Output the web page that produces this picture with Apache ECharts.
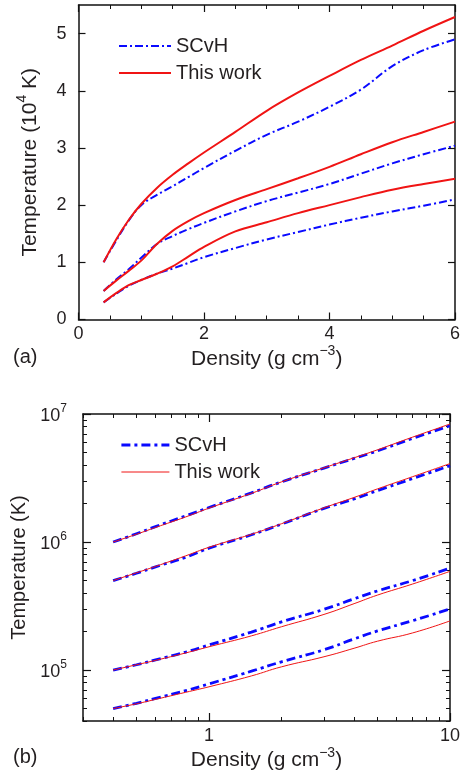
<!DOCTYPE html>
<html><head><meta charset="utf-8">
<script src="https://cdn.jsdelivr.net/npm/echarts@6/dist/echarts.min.js"></script>
<style>html,body{margin:0;padding:0;background:#fff}#c{width:463px;height:773px}</style>
</head><body><div id="c"></div>
<script>
// ---------- Panel (a): linear axes, temperature in 10^4 K ----------
const densA = [0.4,0.6,0.8,1.0,1.25,1.5,1.75,2,2.5,3,3.5,4,4.5,5,5.5,6];
const aScvh1 = [1.00,1.38,1.73,2.00,2.18,2.33,2.49,2.65,2.95,3.23,3.46,3.72,4.02,4.43,4.71,4.90];
const aWork1 = [1.00,1.40,1.74,2.02,2.30,2.53,2.73,2.92,3.28,3.65,3.97,4.26,4.54,4.79,5.05,5.29];
const aScvh2 = [0.50,0.70,0.88,1.08,1.32,1.46,1.58,1.69,1.89,2.07,2.22,2.37,2.55,2.73,2.89,3.04];
const aWork2 = [0.50,0.68,0.85,1.03,1.32,1.55,1.72,1.86,2.09,2.28,2.47,2.67,2.89,3.10,3.28,3.46];
const aScvh3 = [0.30,0.45,0.59,0.69,0.80,0.89,0.99,1.09,1.25,1.40,1.53,1.66,1.78,1.89,1.99,2.10];
const aWork3 = [0.30,0.46,0.60,0.69,0.80,0.93,1.10,1.27,1.54,1.70,1.86,2.00,2.14,2.27,2.37,2.46];
const aXTicks = [0,2,4,6];
const aYTicks = [0,1,2,3,4,5];

// ---------- Panel (b): log-log axes, temperature in K ----------
const densB = [0.4,0.5,0.6,0.8,1,1.5,2,3,4,5,7,10];
const bScvh1 = [1.0e6,1.16e6,1.32e6,1.6e6,1.86e6,2.42e6,2.95e6,3.78e6,4.5e6,5.15e6,6.45e6,8.1e6];
const bWork1 = [1.0e6,1.15e6,1.30e6,1.57e6,1.84e6,2.40e6,2.95e6,3.80e6,4.55e6,5.25e6,6.6e6,8.35e6];
const bScvh2 = [5.0e5,5.7e5,6.4e5,7.6e5,8.95e5,1.14e6,1.38e6,1.83e6,2.17e6,2.52e6,3.13e6,3.95e6];
const bWork2 = [5.0e5,5.75e5,6.45e5,7.8e5,9.1e5,1.15e6,1.39e6,1.85e6,2.23e6,2.6e6,3.24e6,4.1e6];
const bScvh3 = [1.0e5,1.1e5,1.2e5,1.38e5,1.57e5,1.98e5,2.38e5,2.98e5,3.6e5,4.15e5,5.0e5,6.25e5];
const bWork3 = [1.0e5,1.1e5,1.19e5,1.36e5,1.52e5,1.85e5,2.18e5,2.72e5,3.3e5,3.85e5,4.7e5,5.9e5];
const bScvh4 = [5.0e4,5.5e4,6.0e4,6.9e4,7.8e4,9.8e4,1.16e5,1.44e5,1.75e5,2.02e5,2.43e5,3.0e5];
const bWork4 = [5.0e4,5.45e4,5.9e4,6.7e4,7.4e4,9.0e4,1.06e5,1.27e5,1.48e5,1.68e5,1.95e5,2.42e5];
const bXMajor = [1,10];
const bXMinor = [0.3,0.4,0.5,0.6,0.7,0.8,0.9,2,3,4,5,6,7,8,9];
const bYMajor = [1e5,1e6,1e7];
const bYMinor = [4e4,5e4,6e4,7e4,8e4,9e4,2e5,3e5,4e5,5e5,6e5,7e5,8e5,9e5,2e6,3e6,4e6,5e6,6e6,7e6,8e6,9e6];

const legendNames = ['SCvH','This work'];

const BLUE = '#0a0aff', RED = '#f01414', TXT = '#231f20';
const FONT = '"Liberation Sans", Arial, Helvetica, sans-serif';
const zip = (xs, ys) => xs.map((x, i) => [x, ys[i]]);

const richBase = {
  n: {fontSize: 21, lineHeight: 25, color: TXT, fontFamily: FONT, verticalAlign: 'bottom'},
  s: {fontSize: 14, lineHeight: 14, color: TXT, fontFamily: FONT, verticalAlign: 'top'}
};
const richTick = {
  n: {fontSize: 18, lineHeight: 22, color: TXT, fontFamily: FONT, verticalAlign: 'bottom'},
  s: {fontSize: 12, lineHeight: 12, color: TXT, fontFamily: FONT, verticalAlign: 'top'}
};

const dashA = [8,3,2,3];
const dashB = [9,4,3,4];

function lineSeries(name, data, xi, yi, color, width, dash, z, sm) {
  return {
    type: 'line', name: name, data: data, xAxisIndex: xi, yAxisIndex: yi,
    showSymbol: false, symbol: 'none', smooth: sm, animation: false, z: z,
    lineStyle: {color: color, width: width, type: dash || 'solid'},
    itemStyle: {color: color}
  };
}

const mkLine = () => ({show: true, onZero: false, lineStyle: {color: '#111', width: 1.5}});
const noLine = () => ({show: false, onZero: false});
const noLabel = {show: false};

const series = [
  lineSeries('SCvH', zip(densA, aScvh1), 0, 0, BLUE, 2, dashA, 2, 0.35),
  lineSeries('SCvH', zip(densA, aScvh2), 0, 0, BLUE, 2, dashA, 2, 0.35),
  lineSeries('SCvH', zip(densA, aScvh3), 0, 0, BLUE, 2, dashA, 2, 0.35),
  lineSeries('This work', zip(densA, aWork1), 0, 0, RED, 2, null, 3, 0.35),
  lineSeries('This work', zip(densA, aWork2), 0, 0, RED, 2, null, 3, 0.35),
  lineSeries('This work', zip(densA, aWork3), 0, 0, RED, 2, null, 3, 0.35),
  lineSeries('SCvH', zip(densB, bScvh1), 2, 2, BLUE, 2.8, dashB, 2, 0.5),
  lineSeries('SCvH', zip(densB, bScvh2), 2, 2, BLUE, 2.8, dashB, 2, 0.5),
  lineSeries('SCvH', zip(densB, bScvh3), 2, 2, BLUE, 2.8, dashB, 2, 0.5),
  lineSeries('SCvH', zip(densB, bScvh4), 2, 2, BLUE, 2.8, dashB, 2, 0.5),
  lineSeries('This work', zip(densB, bWork1), 2, 2, RED, 1, null, 3, 0.5),
  lineSeries('This work', zip(densB, bWork2), 2, 2, RED, 1, null, 3, 0.5),
  lineSeries('This work', zip(densB, bWork3), 2, 2, RED, 1, null, 3, 0.5),
  lineSeries('This work', zip(densB, bWork4), 2, 2, RED, 1, null, 3, 0.5)
];

const supFmt = v => {
  const e = Math.round(Math.log10(v));
  return '{n|10}{s|' + e + '}';
};

const majTick = (len, cv) => {
  const t = {show: true, inside: true, length: len, lineStyle: {color: '#111', width: 1.2}};
  if (cv) t.customValues = cv;
  return t;
};
const minTick = (len, cv) => ({show: true, inside: true, length: len, customValues: cv, lineStyle: {color: '#111', width: 1}});

const xAxes = [
  // panel a bottom
  {gridIndex: 0, type: 'value', position: 'bottom', min: 0, max: 6, interval: 2,
   axisLine: mkLine(), splitLine: {show: false},
   axisTick: majTick(7),
   minorTick: {show: true, splitNumber: 4, length: 4, lineStyle: {color: '#111', width: 1}},
   axisLabel: {show: true, margin: 6, fontSize: 18, color: TXT, fontFamily: FONT},
   name: '{n|Density (g cm}{s|\u22123}{n|)}', nameLocation: 'middle', nameGap: 25,
   nameTextStyle: {rich: richBase}},
  // panel a top
  {gridIndex: 0, type: 'value', position: 'top', min: 0, max: 6, interval: 2,
   axisLine: mkLine(), splitLine: {show: false},
   axisTick: majTick(7),
   minorTick: {show: true, splitNumber: 4, length: 4, lineStyle: {color: '#111', width: 1}},
   axisLabel: noLabel},
  // panel b bottom major
  {gridIndex: 1, type: 'log', logBase: 10, position: 'bottom', min: 0.3, max: 10,
   axisLine: mkLine(), splitLine: {show: false}, minorTick: {show: false},
   axisTick: majTick(8, bXMajor),
   axisLabel: {show: true, margin: 6, fontSize: 18, color: TXT, fontFamily: FONT, customValues: bXMajor},
   name: '{n|Density (g cm}{s|\u22123}{n|)}', nameLocation: 'middle', nameGap: 25,
   nameTextStyle: {rich: richBase}},
  // panel b bottom minor
  {gridIndex: 1, type: 'log', logBase: 10, position: 'bottom', min: 0.3, max: 10,
   axisLine: noLine(), splitLine: {show: false}, minorTick: {show: false},
   axisTick: minTick(4, bXMinor), axisLabel: noLabel},
  // panel b top major
  {gridIndex: 1, type: 'log', logBase: 10, position: 'top', min: 0.3, max: 10,
   axisLine: mkLine(), splitLine: {show: false}, minorTick: {show: false},
   axisTick: majTick(8, bXMajor), axisLabel: noLabel},
  // panel b top minor
  {gridIndex: 1, type: 'log', logBase: 10, position: 'top', min: 0.3, max: 10,
   axisLine: noLine(), splitLine: {show: false}, minorTick: {show: false},
   axisTick: minTick(4, bXMinor), axisLabel: noLabel}
];

const yAxes = [
  // panel a left
  {gridIndex: 0, type: 'value', position: 'left', min: 0, max: 5.5, interval: 1,
   axisLine: mkLine(), splitLine: {show: false},
   axisTick: majTick(7, aYTicks),
   axisLabel: {show: true, margin: 12, fontSize: 18, color: TXT, fontFamily: FONT, customValues: aYTicks},
   name: '{n|Temperature (10}{s|4}{n| K)}', nameLocation: 'middle', nameGap: 38,
   nameTextStyle: {rich: richBase}},
  // panel a right
  {gridIndex: 0, type: 'value', position: 'right', min: 0, max: 5.5, interval: 1,
   axisLine: mkLine(), splitLine: {show: false},
   axisTick: majTick(7, aYTicks), axisLabel: noLabel},
  // panel b left major
  {gridIndex: 1, type: 'log', logBase: 10, position: 'left', min: 4e4, max: 1e7,
   axisLine: mkLine(), splitLine: {show: false}, minorTick: {show: false},
   axisTick: majTick(8, bYMajor),
   axisLabel: {show: true, margin: 16, customValues: bYMajor, formatter: supFmt, rich: richTick},
   name: 'Temperature (K)', nameLocation: 'middle', nameGap: 44,
   nameTextStyle: {fontSize: 20, color: TXT, fontFamily: FONT}},
  // panel b left minor
  {gridIndex: 1, type: 'log', logBase: 10, position: 'left', min: 4e4, max: 1e7,
   axisLine: noLine(), splitLine: {show: false}, minorTick: {show: false},
   axisTick: minTick(4, bYMinor), axisLabel: noLabel},
  // panel b right major
  {gridIndex: 1, type: 'log', logBase: 10, position: 'right', min: 4e4, max: 1e7,
   axisLine: mkLine(), splitLine: {show: false}, minorTick: {show: false},
   axisTick: majTick(8, bYMajor), axisLabel: noLabel},
  // panel b right minor
  {gridIndex: 1, type: 'log', logBase: 10, position: 'right', min: 4e4, max: 1e7,
   axisLine: noLine(), splitLine: {show: false}, minorTick: {show: false},
   axisTick: minTick(4, bYMinor), axisLabel: noLabel}
];

const legendText = {fontSize: 20, color: TXT, fontFamily: FONT};
const hideSym = {color: 'rgba(0,0,0,0)', borderWidth: 0, opacity: 0};
const option = {
  backgroundColor: '#ffffff',
  animation: false,
  textStyle: {fontFamily: FONT},
  grid: [
    {left: 78.5, top: 5, width: 377.5, height: 314.5, containLabel: false},
    {left: 83, top: 414, width: 368, height: 307, containLabel: false}
  ],
  xAxis: xAxes,
  yAxis: yAxes,
  legend: [
    {left: 113, top: 31, orient: 'vertical', itemWidth: 52, itemHeight: 14, itemGap: 7,
     selectedMode: false, textStyle: legendText,
     data: [
       {name: legendNames[0], itemStyle: hideSym, lineStyle: {color: BLUE, width: 2, type: dashA, opacity: 1}},
       {name: legendNames[1], itemStyle: hideSym, lineStyle: {color: RED, width: 2, type: 'solid', opacity: 1}}
     ]},
    {left: 115, top: 430, orient: 'vertical', itemWidth: 48, itemHeight: 14, itemGap: 7,
     selectedMode: false, textStyle: legendText,
     data: [
       {name: legendNames[0], itemStyle: hideSym, lineStyle: {color: BLUE, width: 2.8, type: dashB, opacity: 1}},
       {name: legendNames[1], itemStyle: hideSym, lineStyle: {color: RED, width: 1, type: 'solid', opacity: 1}}
     ]}
  ],
  graphic: [
    {type: 'text', left: 13, top: 347, style: {text: '(a)', fontSize: 20, fill: TXT, fontFamily: FONT}},
    {type: 'text', left: 13, top: 747, style: {text: '(b)', fontSize: 20, fill: TXT, fontFamily: FONT}}
  ],
  series: series
};

const chart = echarts.init(document.getElementById('c'), null, {renderer: 'canvas'});
chart.setOption(option);
</script>
</body></html>
